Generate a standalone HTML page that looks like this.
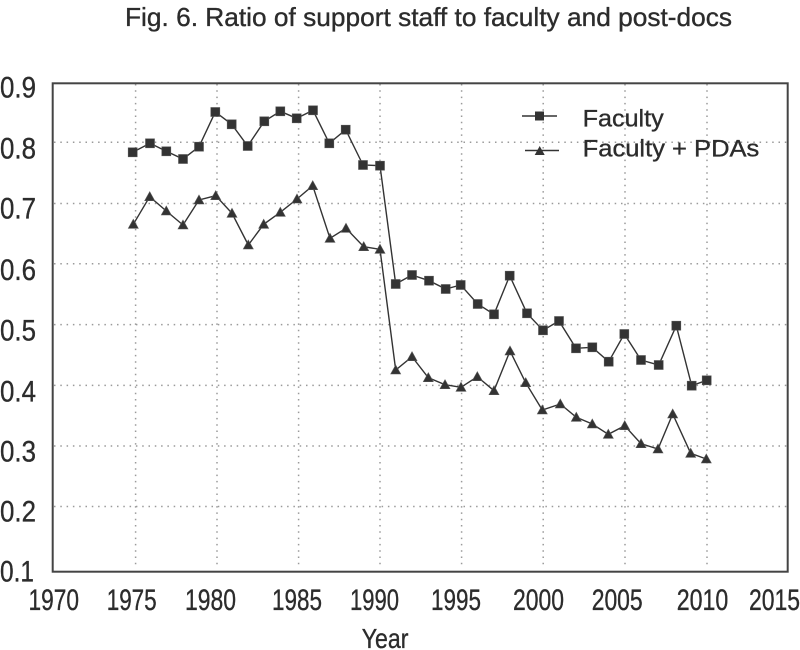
<!DOCTYPE html>
<html>
<head>
<meta charset="utf-8">
<style>
html,body{margin:0;padding:0;background:#fff;}
svg{display:block;}
text{font-family:"Liberation Sans",Arial,sans-serif;fill:#2c2c2c;stroke:#2c2c2c;stroke-width:0.35;}
</style>
</head>
<body>
<svg width="800" height="650" viewBox="0 0 800 650" xmlns="http://www.w3.org/2000/svg">
<defs>
<marker id="sq" markerUnits="userSpaceOnUse" markerWidth="10" markerHeight="10" refX="5" refY="5" overflow="visible">
<rect x="0.5" y="0.5" width="9" height="9" fill="#333" stroke="#555" stroke-width="0.6"/>
</marker>
<marker id="tri" markerUnits="userSpaceOnUse" markerWidth="10" markerHeight="10" refX="5" refY="5" overflow="visible">
<polygon points="5,0 10,9 0,9" fill="#333" stroke="#555" stroke-width="0.6"/>
</marker>
</defs>

<!-- title -->
<text x="125" y="26" font-size="26" textLength="607" lengthAdjust="spacingAndGlyphs">Fig. 6. Ratio of support staff to faculty and post-docs</text>

<!-- grid -->
<g stroke="#9a9a9a" stroke-width="1.5" stroke-dasharray="1.5 4.8" fill="none">
<line x1="54" y1="142.3" x2="787" y2="142.3"/>
<line x1="54" y1="203.5" x2="787" y2="203.5"/>
<line x1="54" y1="263.8" x2="787" y2="263.8"/>
<line x1="54" y1="324.6" x2="787" y2="324.6"/>
<line x1="54" y1="385.4" x2="787" y2="385.4"/>
<line x1="54" y1="446" x2="787" y2="446"/>
<line x1="54" y1="506.5" x2="787" y2="506.5"/>
<line x1="135.6" y1="84" x2="135.6" y2="565"/>
<line x1="217" y1="84" x2="217" y2="565"/>
<line x1="298.6" y1="84" x2="298.6" y2="565"/>
<line x1="380" y1="84" x2="380" y2="565"/>
<line x1="461.6" y1="84" x2="461.6" y2="565"/>
<line x1="543.2" y1="84" x2="543.2" y2="565"/>
<line x1="625" y1="84" x2="625" y2="565"/>
<line x1="707" y1="84" x2="707" y2="565"/>
</g>

<!-- frame -->
<rect x="52.7" y="83.3" width="735" height="488.4" fill="none" stroke="#444" stroke-width="2"/>

<!-- series -->
<polyline fill="none" stroke="#333" stroke-width="1.4" marker-start="url(#sq)" marker-mid="url(#sq)" marker-end="url(#sq)"
points="132.7,152.3 150,143.3 166.3,151.3 183,159 199,146.7 215.3,112 231.7,124.3 247.7,146 264.3,121.3 280.3,111.3 296.7,118.3 313,110.3 329.3,143.3 345.7,129.7 363,165 380,165.7 395.7,284 412,275 429,280.7 445.7,289 460.7,285 477.7,304 494,314.3 509.7,275.7 527,313.3 543,330.3 559,321 576,348.3 592.3,347.3 608.7,361.7 624.3,334 641,360 658.7,365 676.3,325.7 691.7,385.7 706.7,380.3"/>
<polyline fill="none" stroke="#333" stroke-width="1.4" marker-start="url(#tri)" marker-mid="url(#tri)" marker-end="url(#tri)"
points="133.3,224.3 149.7,196.7 166.3,211 183,225 199,200 215.7,195.7 232,213.3 248.3,245 263.7,224.3 280.3,212.3 297,199 312.7,185.7 330,238.3 346,228.3 363.7,246.7 380,249.3 395.7,370 412,356.7 428.3,377.7 445,384.7 461,387.3 477.3,376.7 494,390.7 510,351 525.7,382.7 542.3,410 560.3,404 576.3,417.3 592.3,424 608.3,434.3 624.7,425.7 641,443.7 658,449 672.7,414 690.7,453.3 706.3,459"/>

<!-- legend -->
<line x1="522" y1="116" x2="557" y2="116" stroke="#333" stroke-width="1.4"/>
<rect x="535" y="111.5" width="9" height="9" fill="#333"/>
<line x1="525" y1="150.5" x2="559" y2="150.5" stroke="#333" stroke-width="1.4"/>
<polygon points="539.7,146 544.7,155 534.7,155" fill="#333"/>
<text x="582.7" y="126.7" font-size="24.5" textLength="81" lengthAdjust="spacingAndGlyphs">Faculty</text>
<text x="582.7" y="156.7" font-size="24.5" textLength="176.6" lengthAdjust="spacingAndGlyphs">Faculty + PDAs</text>

<!-- y tick labels -->
<g font-size="30">
<text x="0" y="97.5" textLength="36" lengthAdjust="spacingAndGlyphs">0.9</text>
<text x="0" y="158.3" textLength="36" lengthAdjust="spacingAndGlyphs">0.8</text>
<text x="0" y="218.5" textLength="36" lengthAdjust="spacingAndGlyphs">0.7</text>
<text x="0" y="280" textLength="36" lengthAdjust="spacingAndGlyphs">0.6</text>
<text x="0" y="340.3" textLength="36" lengthAdjust="spacingAndGlyphs">0.5</text>
<text x="0" y="401.5" textLength="36" lengthAdjust="spacingAndGlyphs">0.4</text>
<text x="0" y="461.6" textLength="36" lengthAdjust="spacingAndGlyphs">0.3</text>
<text x="0" y="521.7" textLength="36" lengthAdjust="spacingAndGlyphs">0.2</text>
<text x="0" y="581.7" textLength="34" lengthAdjust="spacingAndGlyphs">0.1</text>
</g>

<!-- x tick labels -->
<g font-size="30">
<text x="28.5" y="610" textLength="50.5" lengthAdjust="spacingAndGlyphs">1970</text>
<text x="106.7" y="610" textLength="50" lengthAdjust="spacingAndGlyphs">1975</text>
<text x="185" y="610" textLength="51" lengthAdjust="spacingAndGlyphs">1980</text>
<text x="272" y="610" textLength="50" lengthAdjust="spacingAndGlyphs">1985</text>
<text x="350" y="610" textLength="49" lengthAdjust="spacingAndGlyphs">1990</text>
<text x="431" y="610" textLength="50" lengthAdjust="spacingAndGlyphs">1995</text>
<text x="513" y="610" textLength="51" lengthAdjust="spacingAndGlyphs">2000</text>
<text x="591.7" y="610" textLength="51" lengthAdjust="spacingAndGlyphs">2005</text>
<text x="676.7" y="610" textLength="51.6" lengthAdjust="spacingAndGlyphs">2010</text>
<text x="749" y="610" textLength="51" lengthAdjust="spacingAndGlyphs">2015</text>
</g>

<!-- x axis title -->
<text x="361.7" y="648" font-size="28" textLength="46.7" lengthAdjust="spacingAndGlyphs">Year</text>
</svg>
</body>
</html>
